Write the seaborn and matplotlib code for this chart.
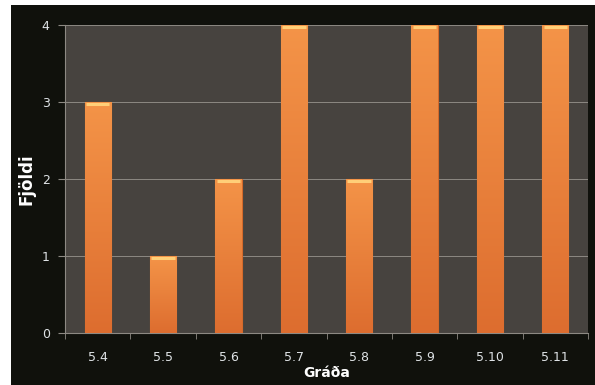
import numpy as np
import pandas as pd
import seaborn as sns
import matplotlib.pyplot as plt
from matplotlib.patches import Rectangle
from matplotlib.colors import LinearSegmentedColormap

# data
grades = ['5.4', '5.5', '5.6', '5.7', '5.8', '5.9', '5.10', '5.11']
counts = [3, 1, 2, 4, 2, 4, 4, 4]

df = pd.DataFrame({'Gráða': grades, 'Fjöldi': counts})

sns.set_style('dark')
plt.rcParams['font.family'] = ['DejaVu Sans']

fig = plt.figure(figsize=(5.95, 3.85), dpi=100)
fig.patch.set_facecolor('white')
# dark frame inside a thin white margin (top and left)
fig.patches.append(Rectangle((11 / 595, -0.05), 1.1, 1.05 - 5 / 385, transform=fig.transFigure,
                             facecolor='#10110c', edgecolor='none', zorder=-10))

ax = fig.add_axes([65 / 595, 52 / 385, 523 / 595, 308 / 385])
ax.set_facecolor('#47433f')

sns.barplot(data=df, x='Gráða', y='Fjöldi', color='#ee8238', width=0.4,
            edgecolor='#d4692a', linewidth=0.8, ax=ax, zorder=3)

# vertical gradient on each bar, light at top
cmap = LinearSegmentedColormap.from_list('og', ['#dd6d2f', '#f49448'])
grad = np.linspace(0, 1, 256).reshape(-1, 1)
for p in ax.patches:
    x0, w, h = p.get_x(), p.get_width(), p.get_height()
    im = ax.imshow(grad, cmap=cmap, origin='lower', aspect='auto',
                   extent=(x0, x0 + w, 0, h), zorder=3.5)
    im.set_clip_path(p)
    # lighter rim at the top of the bar
    ax.plot([x0 + 0.02, x0 + w - 0.02], [h - 0.03, h - 0.03], color='#ffcf78',
            lw=2.2, zorder=4, solid_capstyle='butt')

ax.set_xlim(-0.5, len(grades) - 0.5)
ax.set_ylim(0, 4)
ax.set_yticks([0, 1, 2, 3, 4])
ax.grid(axis='y', color='#8d8983', linewidth=0.7, zorder=1)
ax.grid(axis='x', visible=False)

ax.set_xticks(np.arange(len(grades)))
ax.set_xticklabels(grades)
ax.set_xticks(np.arange(len(grades) + 1) - 0.5, minor=True)
ax.tick_params(axis='x', which='major', length=0, pad=13, colors='#dfe3e6', labelsize=9)
ax.tick_params(axis='x', which='minor', bottom=True, length=4, color='#8d8983', direction='out')
ax.tick_params(axis='y', left=True, length=5, direction='out', colors='#dfe3e6',
               labelsize=9, pad=6)
ax.tick_params(axis='y', color='#8d8983')

for s in ['top', 'right']:
    ax.spines[s].set_visible(False)
for s in ['left', 'bottom']:
    ax.spines[s].set_visible(True)
    ax.spines[s].set_color('#8d8983')
    ax.spines[s].set_linewidth(0.8)

ax.set_xlabel('Gráða', color='white', fontsize=10, fontweight='bold')
ax.xaxis.set_label_coords(0.5, -0.108)
ax.set_ylabel('Fjöldi', color='white', fontsize=12, fontweight='bold')
ax.yaxis.set_label_coords(-0.057, 0.5)

fig.savefig('out.png', dpi=100, facecolor=fig.get_facecolor())
